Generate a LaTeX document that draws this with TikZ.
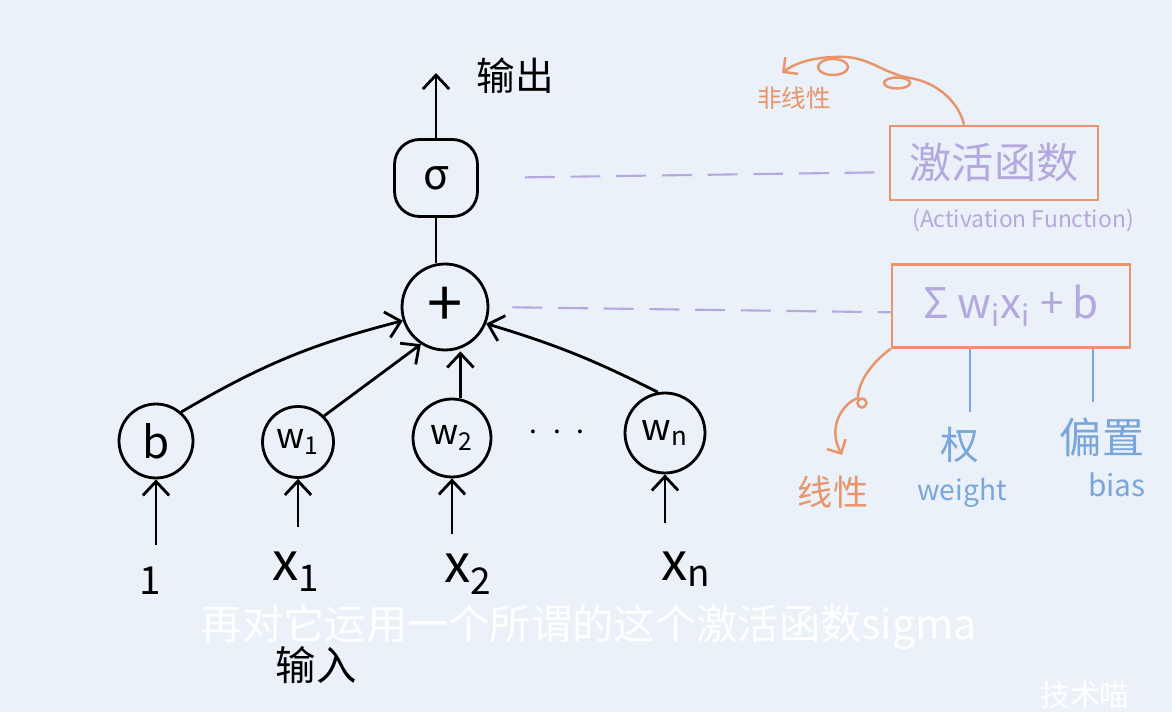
\documentclass[tikz,border=0pt]{standalone}
\usepackage{fontspec}
\setmainfont{Noto Sans CJK SC}
\usepackage{tikz}
\usepackage{xcolor}
\usetikzlibrary{arrows.meta}
\definecolor{bgblue}{HTML}{EAF1F9}
\definecolor{penorange}{HTML}{E8956B}
\definecolor{lilac}{HTML}{B4A8DE}
\definecolor{penblue}{HTML}{7AA6DA}

\begin{document}
\begin{tikzpicture}[x=0.02cm, y=-0.02cm,
    neuron/.style={draw, circle, line width=1.6pt},
    arr/.style={line width=1.6pt, -{Straight Barb[length=8pt,width=15pt]}},
    dashline/.style={lilac, line width=1.2pt, dash pattern=on 17pt off 9pt},
    orangebox/.style={draw=penorange, line width=1.5pt, text=lilac},
    orangearr/.style={penorange, line width=1.4pt, -{Straight Barb[length=6pt,width=12pt]}},
    blueline/.style={penblue, line width=1.4pt}]
            \tikzstyle{every node}+=[inner sep=0pt]
            \useasboundingbox (0,0) rectangle (1172,712);
            \fill [bgblue] (0,0) rectangle (1172,712);
            \node [draw, line width=1.6pt, rounded corners=0.5cm, minimum width=1.66cm, minimum height=1.54cm, font=\fontsize{24}{26}\selectfont] (sig) at (436,178) {σ};
            \node [neuron, minimum size=1.72cm, font=\fontsize{36}{38}\selectfont] (plus) at (445,307) {+};
            \node [neuron, minimum size=1.48cm, font=\fontsize{25}{27}\selectfont] (b) at (156,441) {b};
            \node [neuron, minimum size=1.42cm, font=\fontsize{20}{22}\selectfont] (w1) at (298,442) {w\textsubscript{1}};
            \node [neuron, minimum size=1.56cm, font=\fontsize{20}{22}\selectfont] (w2) at (452,438) {w\textsubscript{2}};
            \node [neuron, minimum size=1.6cm, font=\fontsize{21}{23}\selectfont] (wn) at (665,433) {w\textsubscript{n}};
            \node [font=\fontsize{16}{18}\selectfont] (dots) at (557,432) {.\hspace{0.32cm}.\hspace{0.32cm}.};
            \node [font=\fontsize{22}{24}\selectfont] (one) at (150,581) {1};
            \node [font=\fontsize{30}{32}\selectfont] (x1) at (296,572) {x\textsubscript{1}};
            \node [font=\fontsize{30}{32}\selectfont] (x2) at (468,574) {x\textsubscript{2}};
            \node [font=\fontsize{30}{32}\selectfont] (xn) at (686,569) {x\textsubscript{n}};
            \node [font=\fontsize{23}{25}\selectfont] (inlabel) at (316,665) {输入};
            \node [font=\fontsize{22}{24}\selectfont] (outlabel) at (515,76) {输出};
            \coordinate (outtip) at (436,73);
            \draw [arr] (sig.north) -- (outtip);
            \draw [line width=1.6pt] (sig.south) -- (sig.south |- plus.north);
            \draw [arr] (b.49) to[bend left=8] (plus.198);
            \draw [arr] (w1.45) -- (plus.237);
            \draw [arr] (w2.78) -- (w2.78 |- plus.south);
            \draw [arr] (wn.100) to[bend right=5] (plus.-22);
            \draw [arr, shorten <=0.44cm] (b.south |- one.north) -- (b.south);
            \draw [arr, shorten <=0.5cm] (w1.south |- x1.north) -- (w1.south);
            \draw [arr, shorten <=0.38cm] (w2.south |- x2.north) -- (w2.south);
            \draw [arr, shorten <=0.56cm] (wn.south |- xn.north) -- (wn.south);
            \node [orangebox, minimum width=4.16cm, minimum height=1.48cm, font=\fontsize{24}{26}\selectfont] (act) at (994,163) {激活函数};
            \node [text=lilac, font=\fontsize{13}{15}\selectfont] (actlabel) at (1023,220) {(Activation Function)};
            \node [orangebox, minimum width=4.76cm, minimum height=1.66cm, font=\fontsize{24}{26}\selectfont] (sum) at (1011,306) {Σ w\textsubscript{i}x\textsubscript{i} + b};
            \draw [dashline, shorten <=0.92cm] (sig.east) -- (act.185);
            \draw [dashline, shorten <=0.46cm] (plus.east) -- (sum.183);
            \node [text=penorange, font=\fontsize{14}{16}\selectfont] (nonlin) at (794,98) {非线性};
            \coordinate (nltip) at (782,73);
            \draw [orangearr] (act.128) .. controls (958,100) and (935,82) .. (910,78) .. controls (885,74) and (870,58) .. (845,57) .. controls (815,56) and (795,63) .. (nltip);
            \draw [penorange, line width=1.4pt] (897,83) ellipse [x radius=0.26cm, y radius=0.11cm];
            \draw [penorange, line width=1.4pt] (833,67) ellipse [x radius=0.3cm, y radius=0.16cm];
            \node [text=penorange, font=\fontsize{20}{22}\selectfont] (lin) at (833,492) {线性};
            \coordinate (lintip) at (842,455);
            \draw [orangearr] (sum.south west) .. controls (875,360) and (858,380) .. (858,398) .. controls (845,402) and (826,425) .. (lintip);
            \draw [penorange, line width=1.4pt] (862,403) circle (0.09cm);
            \node [text=penblue, font=\fontsize{22}{24}\selectfont] (quan) at (960,445) {权};
            \node [text=penblue, font=\fontsize{16}{18}\selectfont] (weight) at (962,493) {weight};
            \node [text=penblue, font=\fontsize{24}{26}\selectfont] (pz) at (1102,437) {偏置};
            \node [text=penblue, font=\fontsize{17}{19}\selectfont] (bias) at (1117,485) {bias};
            \coordinate (quantop) at ([xshift=0.2cm, yshift=0.3cm]quan.north);
            \coordinate (pztop) at ([xshift=-0.18cm, yshift=0.3cm]pz.north);
            \draw [blueline] (quantop |- sum.south) -- (quantop);
            \draw [blueline] (pztop |- sum.south) -- (pztop);
            \node [text=white, font=\fontsize{23.5}{25}\selectfont] (sub) at (589,627) {再对它运用一个所谓的这个激活函数sigma};
            \node [text=white, font=\fontsize{17}{19}\selectfont] (wm) at (1085,695) {技术喵};
        \end{tikzpicture}
\end{document}
